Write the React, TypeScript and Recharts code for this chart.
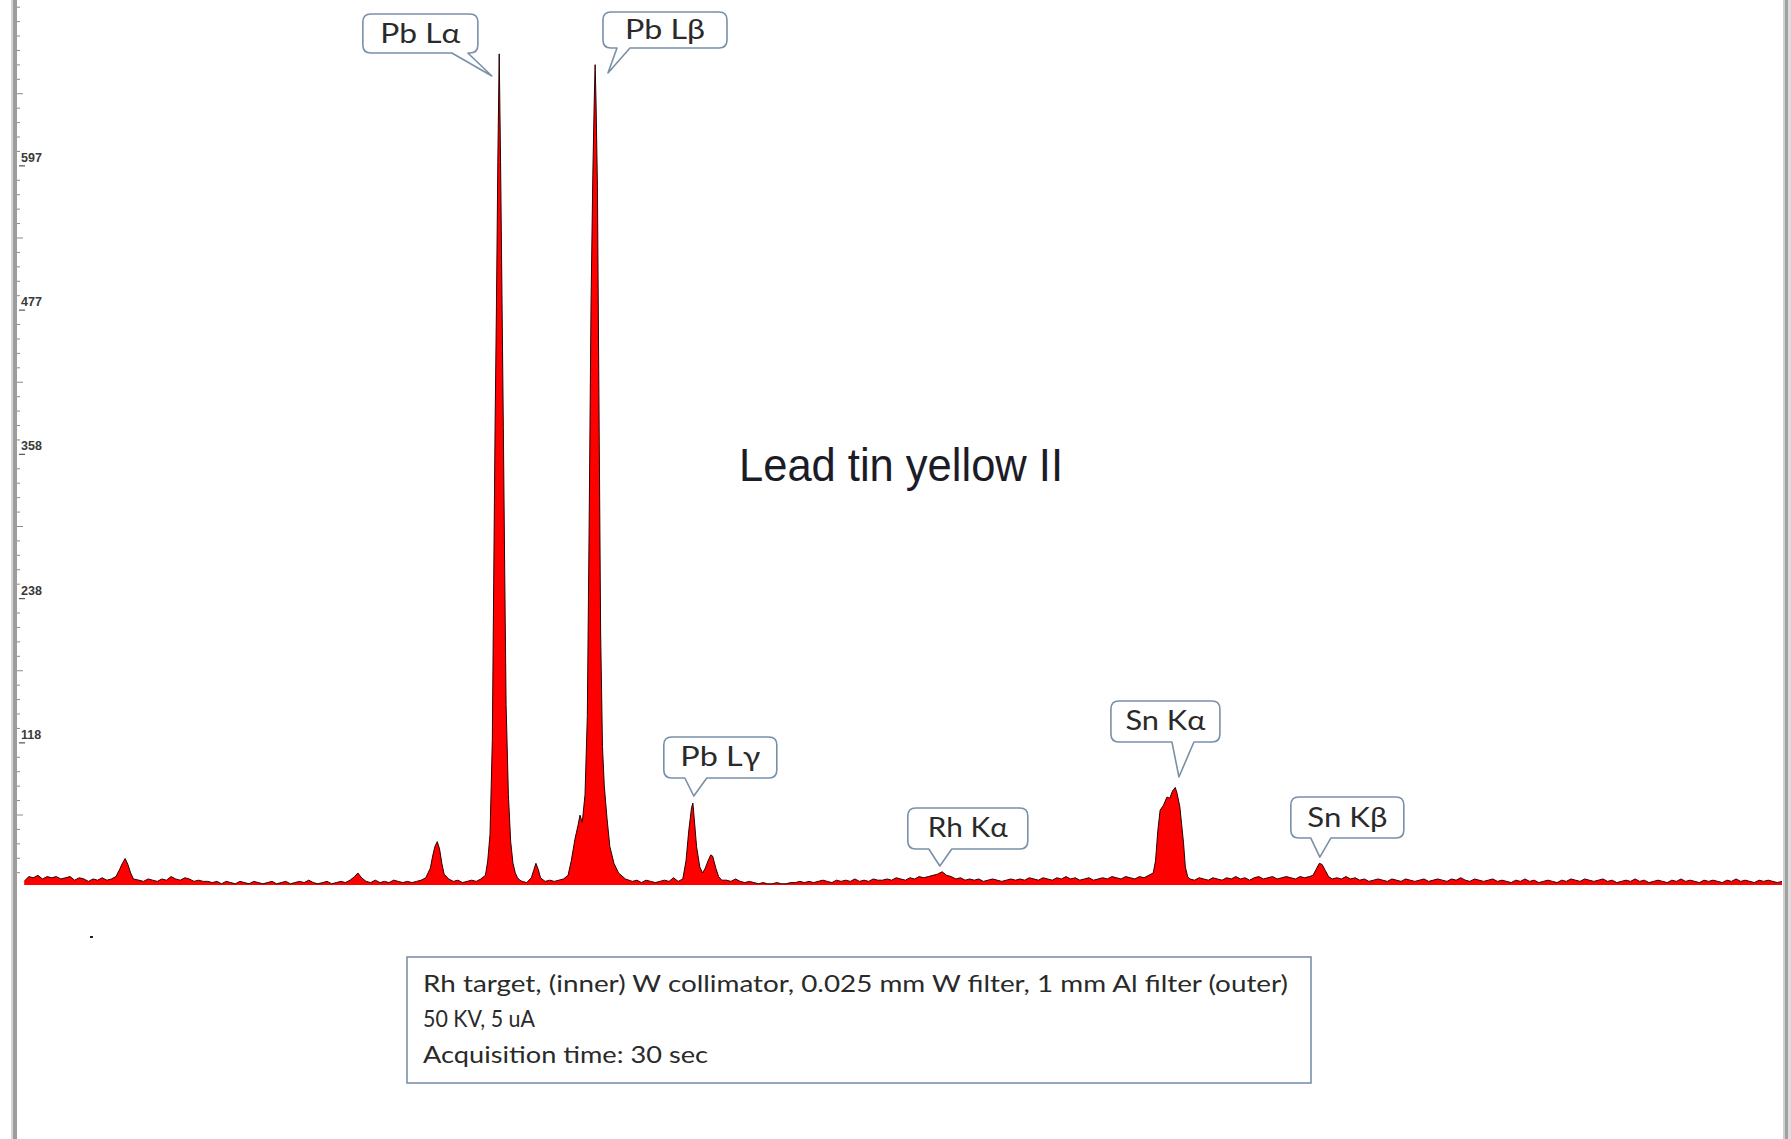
import React from 'react';
import { AreaChart, Area, XAxis, YAxis, ReferenceDot } from 'recharts';

type Pt = [number, number];

// ---- Spectrum: [energy keV, counts] ----
const spectrumLow: Pt[] = [
  [0.2, 3], [0.3, 7], [0.4, 6], [0.5, 8], [0.6, 5], [0.7, 7], [0.8, 6], [0.9, 7], [1.0, 5], [1.1, 6],
  [1.2, 7], [1.3, 4], [1.4, 6], [1.5, 5], [1.6, 3], [1.7, 5], [1.8, 4], [1.9, 6], [2.0, 4], [2.1, 5],
  [2.2, 7], [2.28, 13], [2.34, 18], [2.4, 22], [2.46, 17], [2.52, 10], [2.58, 5], [2.7, 4], [2.8, 3], [2.9, 5],
  [3.0, 4], [3.1, 3], [3.2, 5], [3.3, 4], [3.4, 7], [3.5, 5], [3.6, 4], [3.7, 6], [3.8, 5], [3.9, 3],
  [4.0, 4], [4.1, 3], [4.2, 3], [4.3, 2], [4.4, 3], [4.5, 1], [4.6, 3], [4.7, 2], [4.8, 1], [4.9, 3],
  [5.0, 2], [5.1, 1], [5.2, 3], [5.3, 2], [5.4, 1], [5.5, 2], [5.6, 3], [5.7, 1], [5.8, 2], [5.9, 3],
  [6.0, 1], [6.1, 2], [6.2, 3], [6.3, 2], [6.4, 4], [6.5, 2], [6.6, 1], [6.7, 2], [6.8, 3], [6.9, 1],
  [7.0, 2], [7.1, 3], [7.2, 2], [7.3, 4], [7.4, 7], [7.47, 10], [7.55, 6], [7.65, 3], [7.75, 2], [7.85, 4],
  [7.95, 2], [8.05, 3], [8.15, 2], [8.25, 4], [8.35, 3], [8.45, 2], [8.55, 3], [8.65, 2], [8.75, 3], [8.85, 4],
];

const spectrumPbL: Pt[] = [
  [8.95, 6], [9.05, 14], [9.1, 24], [9.15, 32], [9.2, 36], [9.25, 30], [9.3, 18], [9.35, 9], [9.45, 5], [9.55, 3],
  [9.65, 4], [9.75, 2], [9.85, 3], [9.95, 4], [10.05, 3], [10.15, 5], [10.25, 8], [10.3, 20], [10.35, 42], [10.4, 120],
  [10.43, 250], [10.46, 380], [10.49, 480], [10.52, 600], [10.55, 690], [10.58, 600], [10.61, 490], [10.64, 380], [10.67, 260], [10.7, 150],
  [10.75, 75], [10.8, 36], [10.85, 18], [10.9, 10], [10.95, 6], [11.0, 4], [11.05, 3], [11.15, 2], [11.25, 6], [11.3, 12],
  [11.35, 18], [11.4, 13], [11.45, 6], [11.55, 3], [11.65, 4], [11.75, 3], [11.85, 4], [11.95, 5], [12.05, 8], [12.12, 20],
  [12.2, 38], [12.27, 50], [12.31, 58], [12.36, 52], [12.42, 75], [12.47, 140], [12.51, 300], [12.55, 480], [12.59, 590], [12.62, 650],
  [12.64, 681], [12.66, 650], [12.69, 580], [12.72, 420], [12.76, 210], [12.8, 115], [12.84, 82], [12.9, 55], [12.96, 32], [13.05, 18],
  [13.15, 10], [13.3, 5], [13.45, 3], [13.55, 4], [13.65, 2], [13.75, 4], [13.85, 3], [13.95, 2], [14.05, 3], [14.15, 4],
  [14.25, 3], [14.35, 6], [14.45, 3], [14.55, 5], [14.62, 20], [14.68, 45], [14.74, 64], [14.77, 68], [14.8, 55], [14.85, 32],
  [14.92, 15], [14.98, 10], [15.04, 14], [15.1, 20], [15.16, 25], [15.2, 24], [15.27, 14], [15.33, 7], [15.4, 4],
];

const spectrumMid: Pt[] = [
  [15.5, 4], [15.6, 3], [15.7, 5], [15.8, 3], [15.9, 2], [16.0, 3], [16.1, 2], [16.2, 1], [16.3, 2], [16.4, 1],
  [16.5, 1], [16.6, 2], [16.7, 1], [16.8, 1], [16.9, 2], [17.0, 2], [17.1, 3], [17.2, 2], [17.3, 3], [17.4, 2],
  [17.5, 3], [17.6, 4], [17.7, 3], [17.8, 2], [17.9, 4], [18.0, 3], [18.1, 4], [18.2, 3], [18.3, 5], [18.4, 3],
  [18.5, 4], [18.6, 3], [18.7, 5], [18.8, 4], [18.9, 4], [19.0, 5], [19.1, 4], [19.2, 6], [19.3, 5], [19.4, 4],
  [19.5, 6], [19.6, 5], [19.7, 7], [19.8, 6], [19.9, 7], [20.0, 8], [20.1, 9], [20.2, 11], [20.3, 8], [20.4, 7],
  [20.5, 5], [20.6, 6], [20.7, 4], [20.8, 5], [20.9, 4], [21.0, 5], [21.1, 3], [21.2, 4], [21.3, 5], [21.4, 4],
  [21.5, 3], [21.6, 4], [21.7, 5], [21.8, 4], [21.9, 5], [22.0, 4], [22.1, 6], [22.2, 5], [22.3, 4], [22.4, 6],
  [22.5, 5], [22.6, 4], [22.7, 6], [22.8, 5], [22.9, 7], [23.0, 5], [23.1, 6], [23.2, 4], [23.3, 5], [23.4, 6],
  [23.5, 4], [23.6, 5], [23.7, 6], [23.8, 5], [23.9, 7], [24.0, 6], [24.1, 5], [24.2, 7], [24.3, 6], [24.4, 5],
  [24.5, 7], [24.6, 6], [24.7, 8],
];

const spectrumSnK: Pt[] = [
  [24.8, 10], [24.85, 20], [24.9, 45], [24.95, 62], [25.02, 66], [25.1, 73], [25.16, 72], [25.22, 78], [25.28, 81], [25.32, 76],
  [25.38, 65], [25.42, 50], [25.46, 35], [25.5, 15], [25.55, 7], [25.6, 5], [25.7, 4], [25.8, 6], [25.9, 5], [26.0, 4],
  [26.1, 6], [26.2, 5], [26.3, 4], [26.4, 6], [26.5, 5], [26.6, 7], [26.7, 5], [26.8, 6], [26.9, 4], [27.0, 6],
  [27.1, 7], [27.2, 5], [27.3, 6], [27.4, 7], [27.5, 5], [27.6, 6], [27.7, 7], [27.8, 6], [27.9, 5], [28.0, 7],
  [28.1, 6], [28.2, 7], [28.28, 8], [28.35, 13], [28.42, 18], [28.48, 17], [28.55, 12], [28.62, 7], [28.7, 5], [28.8, 6],
  [28.9, 5], [29.0, 7], [29.1, 5], [29.2, 6], [29.3, 4], [29.4, 5], [29.5, 3], [29.6, 4], [29.7, 5], [29.8, 4],
];

const spectrumHigh: Pt[] = [
  [29.9, 3], [30.0, 5], [30.1, 4], [30.2, 3], [30.3, 5], [30.4, 4], [30.5, 3], [30.6, 4], [30.7, 5], [30.8, 3],
  [30.9, 4], [31.0, 5], [31.1, 4], [31.2, 3], [31.3, 5], [31.4, 4], [31.5, 6], [31.6, 4], [31.7, 3], [31.8, 5],
  [31.9, 4], [32.0, 3], [32.1, 4], [32.2, 5], [32.3, 3], [32.4, 4], [32.5, 3], [32.6, 2], [32.7, 4], [32.8, 3],
  [32.9, 5], [33.0, 3], [33.1, 4], [33.2, 2], [33.3, 3], [33.4, 4], [33.5, 3], [33.6, 2], [33.7, 4], [33.8, 3],
  [33.9, 5], [34.0, 4], [34.1, 3], [34.2, 5], [34.3, 4], [34.4, 3], [34.5, 4], [34.6, 5], [34.7, 3], [34.8, 4],
  [34.9, 2], [35.0, 3], [35.1, 4], [35.2, 3], [35.3, 5], [35.4, 3], [35.5, 4], [35.6, 2], [35.7, 3], [35.8, 4],
  [35.9, 3], [36.0, 2], [36.1, 4], [36.2, 3], [36.3, 5], [36.4, 3], [36.5, 4], [36.6, 3], [36.7, 2], [36.8, 4],
  [36.9, 3], [37.0, 4], [37.1, 3], [37.2, 2], [37.3, 4], [37.4, 3], [37.5, 5], [37.6, 3], [37.7, 4], [37.8, 3],
  [37.9, 2], [38.0, 4], [38.1, 3], [38.2, 4], [38.3, 3], [38.4, 2], [38.5, 3],
];

// ---- Y axis tick labels ----
const yMajorTicks = [118, 238, 358, 477, 597];
const yTickLabels = ['118', '238', '358', '477', '597'];

// ---- Peak callouts: label + tip position in data units (keV, counts) ----
const calloutLabels = ['Pb Lα', 'Pb Lβ', 'Pb Lγ', 'Rh Kα', 'Sn Kα', 'Sn Kβ'];
const calloutTipKeV = [10.39, 12.92, 14.79, 20.15, 25.36, 28.43];
const calloutTipCounts = [671.6, 674.1, 73.9, 15.8, 89.7, 23.2];

// ---- Texts ----
const titleText = 'Lead tin yellow II';
const infoLines = [
  'Rh target, (inner) W collimator, 0.025 mm W filter, 1 mm Al filter (outer)',
  '50 KV, 5 uA',
  'Acquisition time: 30 sec',
];

// ---------------- layout / style (not data) ----------------
const W = 1791;
const H = 1139;
const PLOT_LEFT = 15;
const X_DOMAIN: [number, number] = [0, 38.5];
const Y_DOMAIN: [number, number] = [-4.15, 734.7];

const calloutBoxes = [
  { left: -129, top: -62, w: 115, h: 39, baseL: -40, baseR: -24 },
  { left: -5, top: -61, w: 124, h: 36, baseL: 9, baseR: 22 },
  { left: -30, top: -59, w: 113, h: 41, baseL: -9, baseR: 13 },
  { left: -32, top: -58, w: 120, h: 41, baseL: -11, baseR: 12 },
  { left: -68, top: -76, w: 109, h: 41, baseL: -7, baseR: 15 },
  { left: -29, top: -60, w: 113, h: 41, baseL: -9, baseR: 11 },
];

const spectrum = [...spectrumLow, ...spectrumPbL, ...spectrumMid, ...spectrumSnK, ...spectrumHigh].map(
  ([e, c]) => ({ e, c })
);

// minor tick marks between the labelled ticks (axis decoration)
const tickStep = (yMajorTicks[yMajorTicks.length - 1] - yMajorTicks[0]) / 40;
const allTicks: number[] = [];
for (let v = yMajorTicks[0] - 9 * tickStep; v < Y_DOMAIN[1]; v += tickStep) {
  allTicks.push(Math.round(v * 1000) / 1000);
}

function YTick(props: any) {
  const { y, payload } = props;
  const v = Number(payload?.value);
  if (y == null || Number.isNaN(v)) return <g />;
  const idx = yMajorTicks.findIndex((m) => Math.abs(m - v) < 1);
  const k = Math.round((v - yMajorTicks[0]) / tickStep);
  const half = ((k % 10) + 10) % 10 === 5;
  if (idx >= 0) {
    return (
      <g>
        <line x1={PLOT_LEFT + 4} x2={PLOT_LEFT + 10} y1={y} y2={y} stroke="#555" strokeWidth={1.2} />
        <text
          x={PLOT_LEFT + 6}
          y={y - 4}
          fontFamily="Liberation Sans, Arial, sans-serif"
          fontWeight="bold"
          fontSize={12.5}
          fill="#3a3a3a"
          textAnchor="start"
        >
          {yTickLabels[idx]}
        </text>
      </g>
    );
  }
  return (
    <g>
      <line
        x1={PLOT_LEFT + 2}
        x2={PLOT_LEFT + (half ? 8 : 5)}
        y1={y}
        y2={y}
        stroke="#8a8a8a"
        strokeWidth={1}
      />
    </g>
  );
}

function Callout(props: any) {
  const { cx, cy, label, box } = props;
  if (cx == null || cy == null) return null;
  const r = 8;
  const x0 = cx + box.left;
  const y0 = cy + box.top;
  const x1 = x0 + box.w;
  const y1 = y0 + box.h;
  const bl = cx + box.baseL;
  const br = cx + box.baseR;
  const d = [
    `M ${x0 + r} ${y0}`,
    `H ${x1 - r}`,
    `Q ${x1} ${y0} ${x1} ${y0 + r}`,
    `V ${y1 - r}`,
    `Q ${x1} ${y1} ${x1 - r} ${y1}`,
    `H ${br}`,
    `L ${cx} ${cy}`,
    `L ${bl} ${y1}`,
    `H ${x0 + r}`,
    `Q ${x0} ${y1} ${x0} ${y1 - r}`,
    `V ${y0 + r}`,
    `Q ${x0} ${y0} ${x0 + r} ${y0}`,
    'Z',
  ].join(' ');
  return (
    <g>
      <path d={d} fill="#ffffff" stroke="#7890a8" strokeWidth={1.6} strokeLinejoin="round" />
      <text
        x={x0 + box.w / 2}
        y={y0 + box.h / 2 + 9}
        textAnchor="middle"
        fontFamily="Lato, 'Open Sans', sans-serif"
        fontSize={27}
        fill="#2a2a2a"
        textLength={80}
        lengthAdjust="spacingAndGlyphs"
      >
        {label}
      </text>
    </g>
  );
}

export default function App() {
  return (
    <div
      style={{
        position: 'absolute',
        left: 0,
        top: 0,
        width: W,
        height: H,
        background: '#ffffff',
        overflow: 'hidden',
      }}
    >
      <AreaChart
        width={W}
        height={H}
        data={spectrum}
        margin={{ top: 0, right: W - 1782, bottom: H - 890, left: PLOT_LEFT - 1 }}
      >
        <XAxis
          type="number"
          dataKey="e"
          domain={X_DOMAIN}
          allowDataOverflow
          height={0}
          tick={false}
          tickLine={false}
          axisLine={{ stroke: '#c4c4c4', strokeWidth: 5 }}
        />
        <YAxis
          type="number"
          domain={Y_DOMAIN}
          allowDataOverflow
          width={1}
          ticks={allTicks}
          interval={0}
          tick={(p: any) => <YTick {...p} />}
          tickLine={false}
          axisLine={false}
        />
        <Area
          type="linear"
          dataKey="c"
          baseValue={0}
          stroke="#2a0000"
          strokeWidth={1}
          fill="#ff0000"
          fillOpacity={1}
          dot={false}
          activeDot={false}
          isAnimationActive={false}
        />
        {calloutLabels.map((label, i) => (
          <ReferenceDot
            key={label}
            x={calloutTipKeV[i]}
            y={calloutTipCounts[i]}
            r={0}
            ifOverflow="visible"
            shape={(p: any) => <Callout cx={p.cx} cy={p.cy} label={label} box={calloutBoxes[i]} />}
          />
        ))}
      </AreaChart>

      <svg
        width={W}
        height={H}
        style={{ position: 'absolute', left: 0, top: 0, pointerEvents: 'none' }}
      >
        {/* window frame */}
        <rect x={11} y={0} width={2} height={H} fill="#d6d6d6" />
        <rect x={13} y={0} width={4} height={H} fill="#9c9c9c" />
        <rect x={1783} y={0} width={2} height={H} fill="#d0d0d0" />
        <rect x={1785} y={0} width={3} height={H} fill="#a0a0a0" />
        <rect x={1788} y={0} width={3} height={H} fill="#dcdcdc" />

        {/* title */}
        <text
          x={901}
          y={481}
          textAnchor="middle"
          fontFamily="Liberation Sans, Arial, sans-serif"
          fontSize={47}
          fill="#1c1c28"
          textLength={324}
          lengthAdjust="spacingAndGlyphs"
        >
          {titleText}
        </text>

        {/* small dot */}
        <rect x={90} y={936} width={3} height={2} fill="#222" />

        {/* info box */}
        <rect x={407} y={957} width={904} height={126} fill="#ffffff" stroke="#7d91aa" strokeWidth={1.6} />
        {infoLines.map((line, i) => (
          <text
            key={i}
            x={423}
            y={[992, 1027, 1063][i]}
            fontFamily="Lato, 'Open Sans', sans-serif"
            fontSize={24}
            fill="#2a2a2a"
            textLength={[865, 112, 285][i]}
            lengthAdjust="spacingAndGlyphs"
          >
            {line}
          </text>
        ))}
      </svg>
    </div>
  );
}
